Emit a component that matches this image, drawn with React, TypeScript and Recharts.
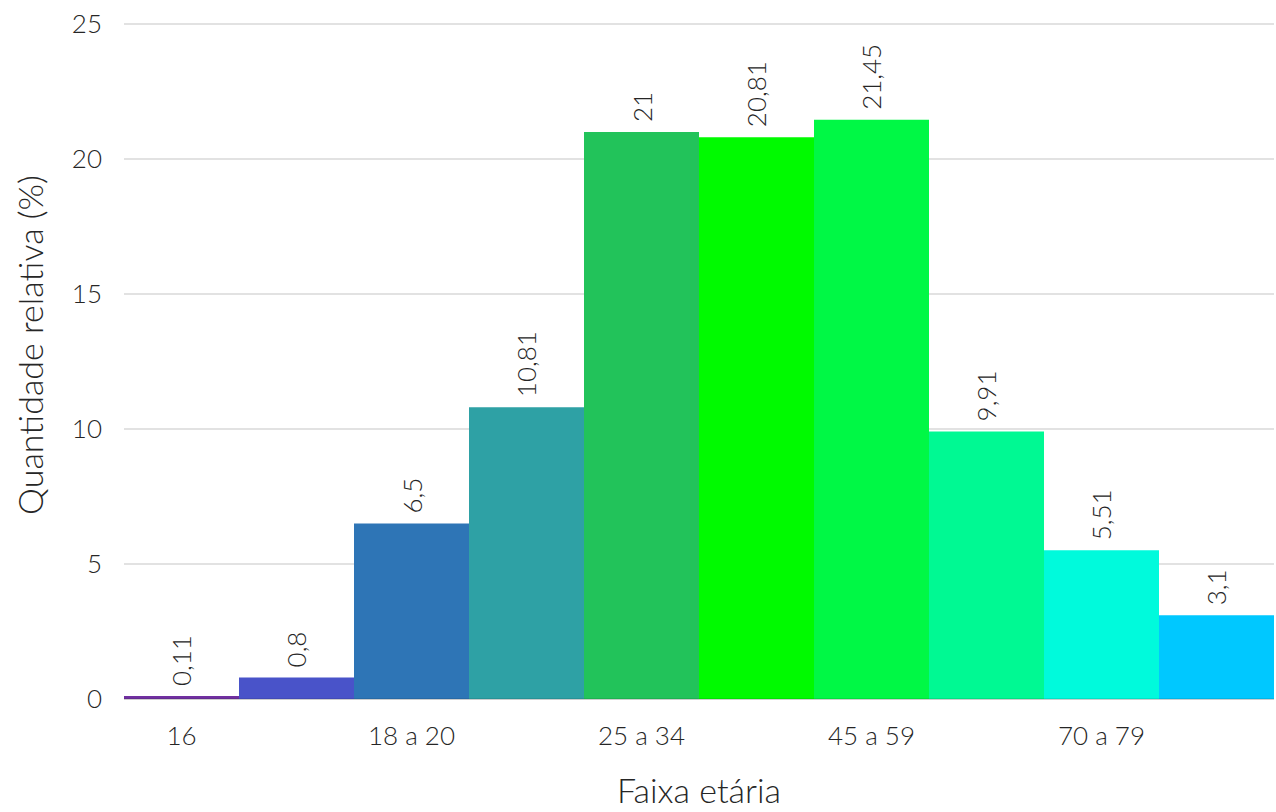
import React from 'react';
import { BarChart, Bar, XAxis, YAxis, CartesianGrid, Cell, LabelList } from 'recharts';

const categories = ['16', '17', '18 a 20', '21 a 24', '25 a 34', '35 a 44', '45 a 59', '60 a 69', '70 a 79', 'Superior a 79'];
const values = [0.11, 0.8, 6.5, 10.81, 21, 20.81, 21.45, 9.91, 5.51, 3.1];
const colors = ['#7030A0', '#4953C9', '#2E75B6', '#2EA1A5', '#22C35A', '#00FA00', '#00F845', '#00F993', '#00FADC', '#00C8FF'];
const yTicks = [0, 5, 10, 15, 20, 25];

const data = categories.map((c, i) => ({ name: c, value: values[i] }));

const FONT = 'Lato, "Open Sans", sans-serif';
const TEXT = '#262626';

const fmt = (v: number) => String(v).replace('.', ',');

const ValueLabel = (props: any) => {
  const { x, y, width, value } = props;
  const cx = Number(x) + Number(width) / 2;
  const ty = Number(y) - 10;
  return (
    <text
      x={cx}
      y={ty}
      transform={`rotate(-90, ${cx}, ${ty})`}
      textAnchor="start"
      dominantBaseline="central"
      fontFamily={FONT}
      fontWeight={300}
      fontSize={26}
      fill={TEXT}
    >
      {fmt(value)}
    </text>
  );
};

const YTitle = () => (
  <text
    x={29}
    y={345}
    transform="rotate(-90, 29, 345)"
    textAnchor="middle"
    dominantBaseline="central"
    fontFamily={FONT}
    fontWeight={300}
    fontSize={34}
    fill={TEXT}
  >
    Quantidade relativa (%)
  </text>
);

const XTitle = (props: any) => {
  const vb = props.viewBox || {};
  const cx = vb.x + vb.width / 2;
  return (
    <text
      x={cx}
      y={803}
      textAnchor="middle"
      fontFamily={FONT}
      fontWeight={300}
      fontSize={34}
      fill={TEXT}
    >
      Faixa etária
    </text>
  );
};

export default function App() {
  return (
    <div style={{ position: 'absolute', left: 0, top: 0, width: 1276, height: 812, background: '#fff' }}>
      <BarChart
        width={1276}
        height={812}
        data={data}
        margin={{ top: 24, right: 2, left: 0, bottom: 0 }}
        barCategoryGap={0}
        barGap={0}
      >
        <CartesianGrid vertical={false} stroke="#d9d9d9" strokeWidth={1.5} />
        <XAxis
          dataKey="name"
          height={113}
          interval={1}
          tickLine={false}
          axisLine={{ stroke: 'rgba(0,0,0,0.12)', strokeWidth: 1.5 }}
          tickMargin={22}
          tick={{ fontFamily: FONT, fontWeight: 300, fontSize: 26, fill: TEXT }}
          label={<XTitle />}
        />
        <YAxis
          width={124}
          domain={[0, 25]}
          ticks={yTicks}
          tickLine={false}
          axisLine={false}
          tickMargin={16}
          tick={{ fontFamily: FONT, fontWeight: 300, fontSize: 26, fill: TEXT }}
          label={<YTitle />}
        />
        <Bar dataKey="value" isAnimationActive={false}>
          {data.map((d, i) => (
            <Cell key={d.name} fill={colors[i]} />
          ))}
          <LabelList dataKey="value" content={<ValueLabel />} />
        </Bar>
      </BarChart>
    </div>
  );
}
